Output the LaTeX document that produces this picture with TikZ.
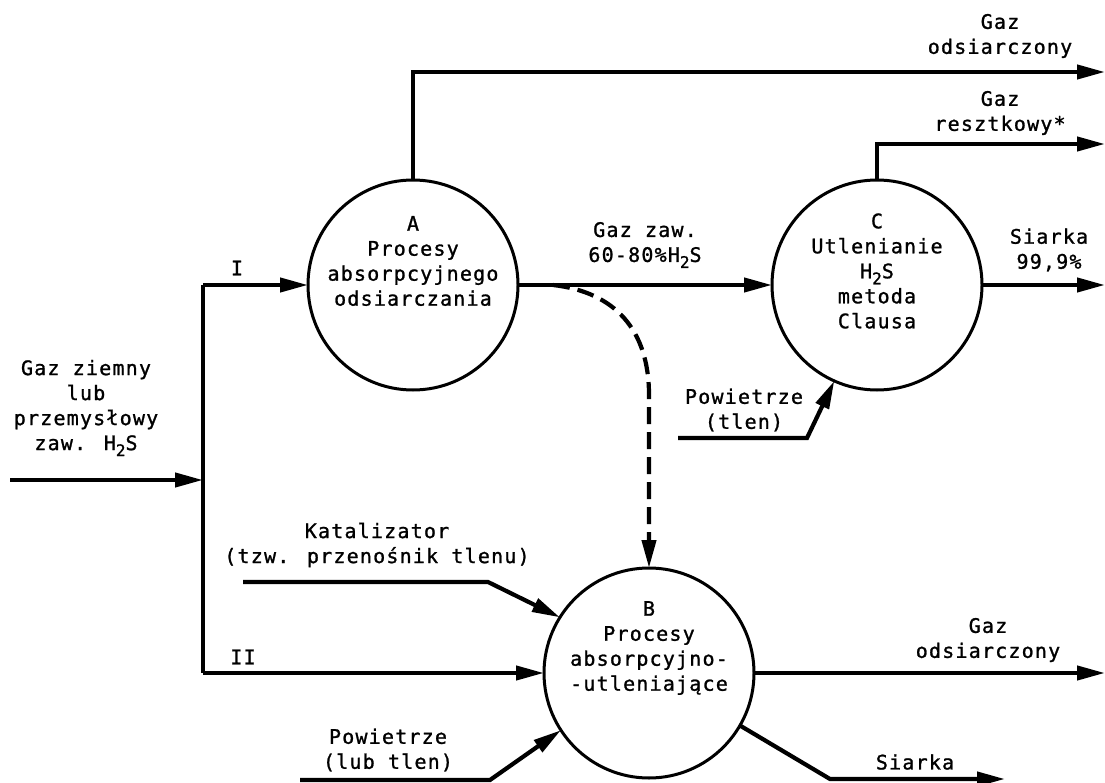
\documentclass[tikz,border=0pt]{standalone}
\usepackage{fontspec}
\newfontfamily\lblfont{DejaVu Sans Mono}[LetterSpace=6,FakeBold=1.2]
\usetikzlibrary{arrows.meta}
\newcommand{\subtwo}{\raisebox{-6pt}{\fontsize{16pt}{16pt}\selectfont 2}}
\begin{document}
\begin{tikzpicture}[x=1pt,y=-1pt,
  every node/.style={font=\lblfont\fontsize{20pt}{25pt}\selectfont, align=center, inner sep=0pt},
  proc/.style={circle, draw, line width=3pt, minimum size=210pt, inner sep=0pt, outer sep=0pt},
  flow/.style={line width=4.2pt, -{Triangle[length=28pt,width=14pt]}},
  plainflow/.style={line width=4.2pt},
  flowdash/.style={line width=4.2pt, dash pattern=on 17pt off 8pt, -{Triangle[length=28pt,width=14pt]}}]
\useasboundingbox (0,0) rectangle (1105,783);

% process circles
\node[proc] (A) at (413,285) {};
\node[proc] (C) at (877,285) {};
\node[proc] (B) at (649,673) {};

\node (At) at (413,261) {A\\Procesy\\absorpcyjnego\\odsiarczania};
\node (Ct) at (877,271) {C\\Utlenianie\\H\subtwo S\\metoda\\Clausa};
\node (Bt) at (649,648) {B\\Procesy\\absorpcyjno-\\-utleniające};

% coordinates
\coordinate (in0) at (10,480);
\coordinate (j) at (203,480);
\coordinate (jI) at (203,285);
\coordinate (jII) at (203,673);
\coordinate (oTop) at (1105,72);
\coordinate (oRes) at (1105,144);
\coordinate (oS) at (1105,285);
\coordinate (oB) at (1105,673);
\coordinate (s1) at (830,779);
\coordinate (s2) at (1005,779);
\coordinate (p1) at (300,780);
\coordinate (p2) at (490,780);
\coordinate (k1) at (243,582);
\coordinate (k2) at (488,582);
\coordinate (pc1) at (678,438);
\coordinate (pc2) at (807,438);
\coordinate (d0) at (553,285);

% connectors
\draw[flow] (in0) -- (j);
\draw[plainflow] (jI) -- (jII);
\draw[flow] (jI) -- (A.west);
\draw[flow] (jII) -- (B.west);
\draw[flow] (A.north) |- (oTop);
\draw[flow] (A.east) -- (C.west);
\draw[flow] (C.north) |- (oRes);
\draw[flow] (C.east) -- (oS);
\draw[flow] (pc1) -- (pc2) -- (C.246);
\draw[flowdash] (d0) .. controls (615,292) and (649,330) .. (649,395) -- (B.north);
\draw[flow] (k1) -- (k2) -- (B.148);
\draw[flow] (p1) -- (p2) -- (B.213);
\draw[flow] (B.east) -- (oB);
\draw[flow] (B.-30) -- (s1) -- (s2);

% labels
\node (lin) at (86,408) {Gaz ziemny\\lub\\przemysłowy\\zaw. H\subtwo S};
\node (lI) at (237,268) {I};
\node (lII) at (243,657) {II};
\node (lTop) at (1000,36) {Gaz\\odsiarczony};
\node (lRes) at (1000,113) {Gaz\\resztkowy*};
\node (lHS) at (645,245) {Gaz zaw.\\60-80\%H\subtwo S};
\node (lS) at (1049,250) {Siarka\\99,9\%};
\node (lPC) at (744,410) {Powietrze\\(tlen)};
\node (lK) at (377,545) {Katalizator\\(tzw. przenośnik tlenu)};
\node (lPB) at (388,750) {Powietrze\\(lub tlen)};
\node (lBo) at (988,640) {Gaz\\odsiarczony};
\node (lSB) at (915,762) {Siarka};
\end{tikzpicture}
\end{document}
